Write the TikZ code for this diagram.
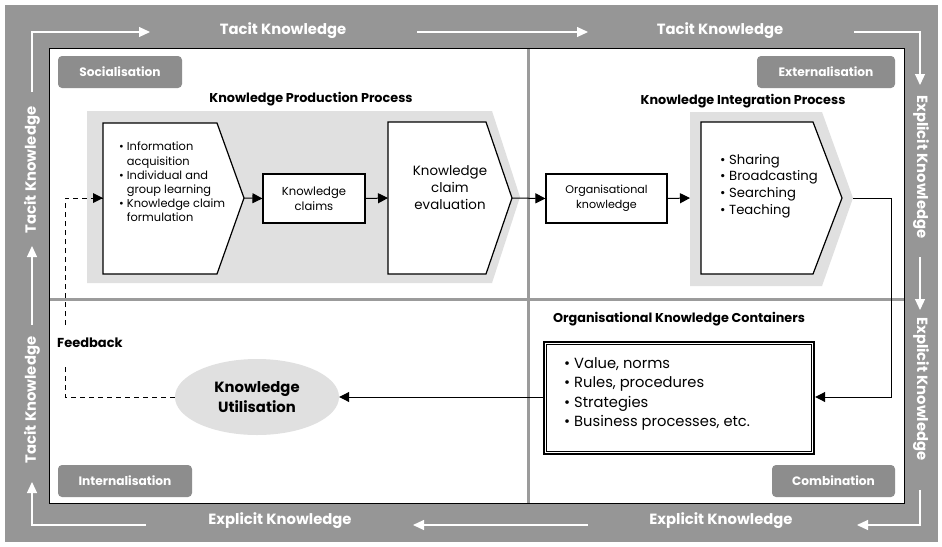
\documentclass[tikz,border=0pt]{standalone}
\usepackage{fontspec}
\setmainfont{Poppins}
\usetikzlibrary{arrows.meta,shapes.geometric,calc}

\definecolor{rim}{RGB}{150,150,150}
\definecolor{tagfill}{RGB}{141,141,141}
\definecolor{rulegray}{RGB}{155,155,155}
\definecolor{pale}{RGB}{224,224,224}

\newcommand\fsz[2]{\fontsize{#1}{#2}\selectfont}
\newcommand\bul{\textbullet\ }
\newcommand\bulsp{\hphantom{\textbullet\ }}

\begin{document}
\begin{tikzpicture}[x=1pt,y=-1pt,
  flow/.style={white, line width=1.1pt, -{Triangle[length=11pt,width=10pt]}},
  flowtext/.style={text=white, font=\bfseries\fsz{14.8}{16}, inner sep=0pt},
  tag/.style={fill=tagfill, rounded corners=4pt, text=white,
    font=\bfseries\fsz{12.2}{13}, inner sep=0pt},
  heading/.style={font=\bfseries\fsz{12.8}{14}, inner sep=0pt},
  link/.style={black, line width=1pt, -{Triangle[length=10pt,width=10pt]}},
  fbline/.style={black, line width=1pt, dash pattern=on 5pt off 4pt},
  shape5/.style={fill=white, draw=black, line width=1.2pt, line join=miter},
  plainbox/.style={draw=black, fill=white, line width=1.2pt, inner sep=0pt}]

\useasboundingbox (0,0) rectangle (942,546);
\fill[white] (0,0) rectangle (942,546);

% grey frame and white working area
\fill[rim] (5,5) rectangle (938,542);
\fill[white] (49,48) rectangle (904,503);
\draw[rulegray, line width=3pt] (528,48) -- (528,503);
\draw[rulegray, line width=3pt] (49,299) -- (904,299);
\draw[black, line width=1pt] (49,48) rectangle (904,503);

% knowledge flow around the frame
\coordinate (f1) at (32,92);   \coordinate (f2) at (32,32);   \coordinate (f3) at (150,32);
\coordinate (f4) at (417,32);  \coordinate (f5) at (588,32);
\coordinate (f6) at (854,32);  \coordinate (f7) at (920,32);  \coordinate (f8) at (920,85);
\coordinate (f9) at (920,257); \coordinate (f10) at (920,310);
\coordinate (f11) at (920,490);\coordinate (f12) at (920,525);\coordinate (f13) at (857,525);
\coordinate (f14) at (588,525);\coordinate (f15) at (413,525);
\coordinate (f16) at (146,525);\coordinate (f17) at (32,525); \coordinate (f18) at (32,482);
\coordinate (f19) at (32,325); \coordinate (f20) at (32,246);

\draw[flow] (f1) -- (f2) -- (f3);
\draw[flow] (f4) -- (f5);
\draw[flow] (f6) -- (f7) -- (f8);
\draw[flow] (f9) -- (f10);
\draw[flow] (f11) -- (f12) -- (f13);
\draw[flow] (f14) -- (f15);
\draw[flow] (f16) -- (f17) -- (f18);
\draw[flow] (f19) -- (f20);

\node[flowtext] (tk1) at (283,31) {Tacit Knowledge};
\node[flowtext] (tk2) at (720,31) {Tacit Knowledge};
\node[flowtext, rotate=-90] (ek1) at (921,167) {Explicit Knowledge};
\node[flowtext, rotate=-90] (ek2) at (921,389) {Explicit Knowledge};
\node[flowtext] (ek3) at (721,521) {Explicit Knowledge};
\node[flowtext] (ek4) at (280,521) {Explicit Knowledge};
\node[flowtext, rotate=90] (tk3) at (32,400) {Tacit Knowledge};
\node[flowtext, rotate=90] (tk4) at (32,170) {Tacit Knowledge};

% quadrant tags
\node[tag, minimum width=124pt, minimum height=32pt] (soc) at (120,72) {Socialisation};
\node[tag, minimum width=138pt, minimum height=32pt] (ext) at (826,72) {Externalisation};
\node[tag, minimum width=134pt, minimum height=32pt] (int) at (125,481) {Internalisation};
\node[tag, minimum width=123pt, minimum height=32pt] (com) at (833.5,481) {Combination};

% headings
\node[heading] (hprod) at (311,99) {Knowledge Production Process};
\node[heading] (hint) at (743,101) {Knowledge Integration Process};
\node[heading] (hcont) at (679,319) {Organisational Knowledge Containers};

% production process
\fill[pale] (87,111) -- (492,111) -- (520,197) -- (492,283) -- (87,283) -- cycle;
\draw[shape5] (103,123) -- (217,123) -- (244,198) -- (217,274) -- (103,274) -- cycle;
\coordinate (p1w) at (103,198);
\coordinate (p1e) at (244,198);
\node[anchor=north west, align=left, inner sep=0pt, font=\fsz{11.4}{14.2}] (p1txt) at (119,142)
  {\bul Information\\\bulsp acquisition\\\bul Individual and\\\bulsp group learning\\\bul Knowledge claim\\\bulsp formulation};

\node[plainbox, minimum width=102pt, minimum height=49pt, align=center,
  font=\fsz{11.6}{15}] (claims) at (314,198.5) {Knowledge\\claims};

\draw[shape5] (388,122) -- (486,122) -- (512,198) -- (486,274) -- (388,274) -- cycle;
\coordinate (p2w) at (388,198);
\coordinate (p2e) at (512,198);
\node[align=center, inner sep=0pt, font=\fsz{13.4}{16.8}] (p2txt) at (450,187.5)
  {Knowledge\\claim\\evaluation};

\draw[link] (p1e) -- (claims.west);
\draw[link] (claims.east) -- (p2w);

% integration process
\node[plainbox, minimum width=121pt, minimum height=49pt, align=center,
  font=\fsz{11.1}{15}] (orgk) at (606.5,198.5) {Organisational\\knowledge};
\fill[pale] (690,112) -- (822,112) -- (853,198) -- (822,286) -- (690,286) -- cycle;
\draw[shape5] (701,122) -- (813,122) -- (842,198) -- (813,274) -- (701,274) -- cycle;
\coordinate (p3w) at (690,198);
\coordinate (p3e) at (853,198);
\node[anchor=north west, align=left, inner sep=0pt, font=\fsz{13.2}{16.7}] (p3txt) at (720,154)
  {\bul Sharing\\\bul Broadcasting\\\bul Searching\\\bul Teaching};

\draw[link] (p2e) -- (orgk.west);
\draw[link] (orgk.east) -- (p3w);

% knowledge containers
\node[draw=black, fill=white, line width=2.4pt, minimum width=270pt, minimum height=112pt,
  inner sep=0pt] (cont) at (679,398) {};
\draw[black, line width=0.7pt] ($(cont.north west)+(4,4)$) rectangle ($(cont.south east)+(-4,-4)$);
\node[anchor=north west, align=left, inner sep=0pt, font=\fsz{14.7}{19.5}] (conttxt) at (564,357)
  {\bul Value, norms\\\bul Rules, procedures\\\bul Strategies\\\bul Business processes, etc.};

\coordinate (c1) at (891,198);
\coordinate (c2) at (891,397);
\draw[link] (p3e) -- (c1) -- (c2) -- (cont.east |- c2);

% knowledge utilisation
\node[ellipse, fill=pale, minimum width=164pt, minimum height=76pt, inner sep=0pt,
  align=center, font=\bfseries\fsz{14.8}{20}] (util) at (257,397) {Knowledge\\Utilisation};
\draw[link] (cont.west |- c2) -- (util.east);

% feedback loop
\node[anchor=west, inner sep=0pt, font=\bfseries\fsz{13}{14}] (fb) at (57,343) {Feedback};
\coordinate (fbA) at (65,325);
\coordinate (fbB) at (65,198);
\coordinate (fbC) at (65,367);
\coordinate (fbD) at (65,397);
\draw[fbline] (util.west) -- (fbD) -- (fbC);
\draw[fbline] (fbA) -- (fbB) -- (p1w);
\fill[black] (p1w) -- ++(-10,-5) -- ++(0,10) -- cycle;

\end{tikzpicture}
\end{document}
